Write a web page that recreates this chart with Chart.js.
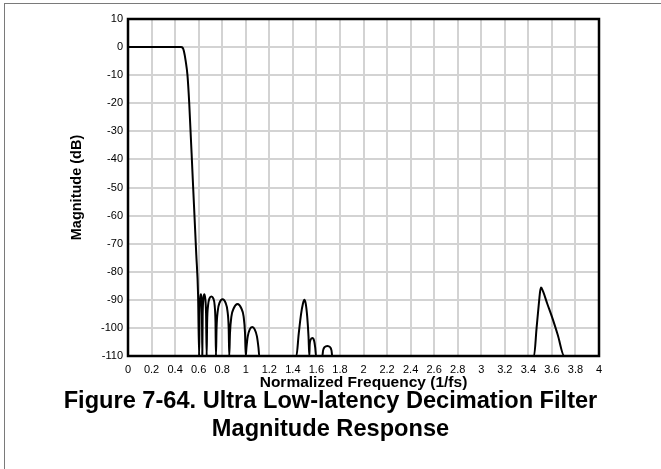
<!DOCTYPE html>
<html>
<head>
<meta charset="utf-8">
<script src="https://cdn.jsdelivr.net/npm/chart.js@4.4.1/dist/chart.umd.min.js"></script>
<style>
  html, body { margin: 0; padding: 0; background: #ffffff; }
  #wrap { position: relative; width: 661px; height: 469px; overflow: hidden; background: #fff; }
  #frame { position: absolute; left: 4px; top: 3px; width: 700px; height: 500px; border-left: 1px solid #7a7a7a; border-top: 1px solid #7a7a7a; }
  canvas { position: absolute; left: 0; top: 0; }
  #caption { position: absolute; left: 0; top: 386px; width: 661px; text-align: center;
    font-family: "Liberation Sans", Arial, sans-serif; font-weight: bold; font-size: 23.6px; line-height: 28px; color: #000; }
</style>
</head>
<body>
<div id="wrap">
  <div id="frame"></div>
  <canvas id="c" width="661" height="469"></canvas>
  <div id="caption">Figure 7-64. Ultra Low-latency Decimation Filter<br>Magnitude Response</div>
</div>
<script>
// Normalized frequency (1/fs)
const freq = [
  0, 0.45, 0.465, 0.475, 0.49, 0.505, 0.52, 0.55, 0.58, 0.595, 0.604,
  0.608, 0.613, 0.619, 0.624, 0.628, 0.631,
  0.634, 0.639, 0.647, 0.656, 0.663, 0.668,
  0.672, 0.68, 0.692, 0.708, 0.724, 0.736, 0.743, 0.747,
  0.752, 0.762, 0.778, 0.803, 0.828, 0.845, 0.855, 0.860,
  0.866, 0.878, 0.898, 0.93, 0.962, 0.982, 0.994, 1.0,
  1.006, 1.017, 1.034, 1.055, 1.076, 1.095, 1.108, 1.115,
  1.43, 1.45, 1.47, 1.485, 1.497, 1.51, 1.522, 1.533, 1.54,
  1.543, 1.55, 1.565, 1.58, 1.59, 1.597,
  1.65, 1.657, 1.67, 1.693, 1.715, 1.728, 1.735,
  3.448, 3.47, 3.49, 3.50, 3.508, 3.525, 3.56, 3.6, 3.65, 3.705,
  4.0
];
// Magnitude (dB)
const magDb = [
  0, 0, -0.3, -1.5, -5, -10, -20, -47, -74, -88, -110,
  -95, -89.5, -88, -89.5, -95, -110,
  -96, -90, -88, -89.5, -95, -110,
  -98, -92, -89.5, -88.8, -89.5, -92, -98, -110,
  -100, -94, -91, -89.8, -91, -94, -100, -110,
  -102, -96, -93, -91.5, -93, -96, -102, -110,
  -107, -103, -100.5, -99.7, -100.5, -103, -107, -110,
  -110, -102, -95, -91.5, -90, -91.5, -96, -103, -110,
  -106, -104.3, -103.6, -104.5, -107, -110,
  -110, -108, -106.8, -106.4, -106.8, -108, -110,
  -110, -100, -91, -87, -85.6, -87, -91.3, -96, -102.5, -110,
  -110
];
const xTickLabels = ['0','0.2','0.4','0.6','0.8','1','1.2','1.4','1.6','1.8','2','2.2','2.4','2.6','2.8','3','3.2','3.4','3.6','3.8','4'];
const yTickLabels = ['-110','-100','-90','-80','-70','-60','-50','-40','-30','-20','-10','0','10'];

const points = freq.map((f, i) => ({ x: f, y: magDb[i] }));

const frame = {
  id: 'frame',
  beforeDatasetsDraw(chart) {
    const a = chart.chartArea, ctx = chart.ctx;
    ctx.save();
    ctx.strokeStyle = '#000';
    ctx.lineWidth = 2.5;
    ctx.strokeRect(a.left, a.top, a.right - a.left, a.bottom - a.top);
    ctx.restore();
  }
};

new Chart(document.getElementById('c'), {
  type: 'line',
  data: {
    datasets: [{
      data: points,
      borderColor: '#000',
      borderWidth: 2,
      pointRadius: 0,
      fill: false,
      cubicInterpolationMode: 'monotone'
    }]
  },
  options: {
    responsive: false,
    animation: false,
    layout: { padding: { left: 0, right: 62, top: 19, bottom: 77 } },
    plugins: { legend: { display: false }, tooltip: { enabled: false } },
    scales: {
      x: {
        type: 'linear', min: 0, max: 4,
        afterFit: s => { s.height = 36; },
        ticks: { stepSize: 0.2, color: '#000', padding: 7, maxRotation: 0, autoSkip: false,
          font: { family: 'Liberation Sans', size: 11 },
          callback: (v, i) => xTickLabels[i] },
        grid: { color: '#d3d3d3', lineWidth: 2, drawTicks: false },
        border: { color: '#000', width: 2 },
        title: { display: true, text: 'Normalized Frequency (1/fs)', color: '#000', padding: { top: 0, bottom: 0 },
          font: { family: 'Liberation Sans', size: 15.5, weight: 'bold' } }
      },
      y: {
        type: 'linear', min: -110, max: 10,
        afterFit: s => { s.width = 128; },
        ticks: { stepSize: 10, color: '#000', padding: 5,
          font: { family: 'Liberation Sans', size: 11 },
          callback: (v, i) => yTickLabels[i] },
        grid: { color: '#d3d3d3', lineWidth: 2, drawTicks: false },
        border: { color: '#000', width: 2 },
        title: { display: true, text: 'Magnitude (dB)', color: '#000', padding: { top: 68, bottom: 0 },
          font: { family: 'Liberation Sans', size: 14.5, weight: 'bold' } }
      }
    }
  },
  plugins: [frame]
});
</script>
</body>
</html>
